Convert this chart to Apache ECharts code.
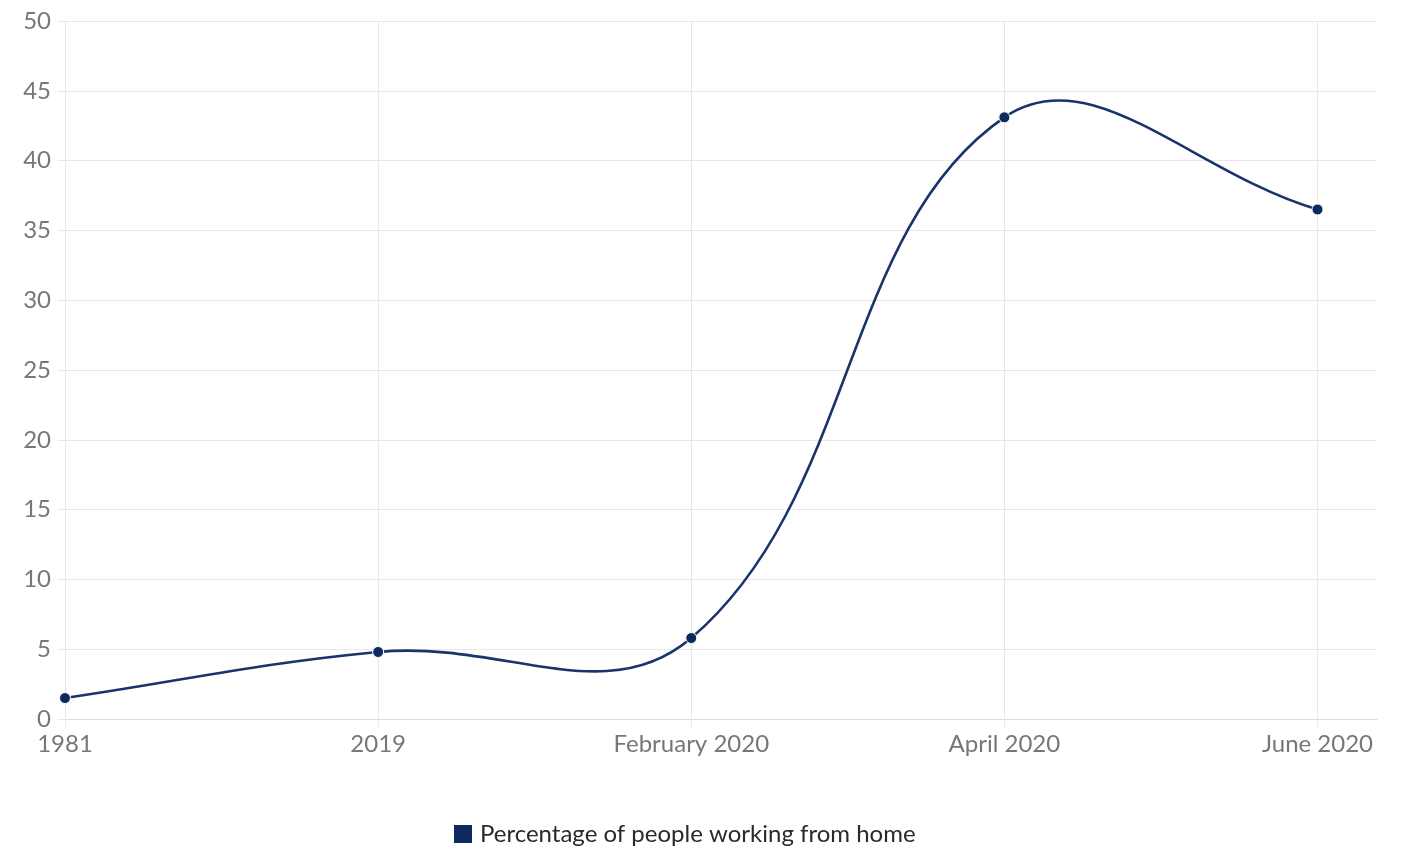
<!DOCTYPE html>
<html><head><meta charset="utf-8">
<script src="https://cdn.jsdelivr.net/npm/echarts@6/dist/echarts.min.js"></script>
<style>html,body{margin:0;padding:0;background:#fff}#c{width:1402px;height:850px}</style>
</head><body><div id="c"></div>
<script>
const categories = ['1981', '2019', 'February 2020', 'April 2020', 'June 2020'];
const values = [1.5, 4.8, 5.8, 43.1, 36.5];
const seriesName = 'Percentage of people working from home';
const yTicks = { min: 0, max: 50, interval: 5 };

const tension = 0.4;
const lineColor = '#1a336b';

function splinePath(pts) {
  // Cardinal-style spline (control points from neighbours), no clamping
  const cps = pts.map((p, i) => {
    const prev = pts[i - 1] || p, next = pts[i + 1] || p;
    const d01 = Math.hypot(p[0] - prev[0], p[1] - prev[1]);
    const d12 = Math.hypot(next[0] - p[0], next[1] - p[1]);
    const tot = d01 + d12 || 1;
    const fa = tension * d01 / tot, fb = tension * d12 / tot;
    return {
      prev: [p[0] - fa * (next[0] - prev[0]), p[1] - fa * (next[1] - prev[1])],
      next: [p[0] + fb * (next[0] - prev[0]), p[1] + fb * (next[1] - prev[1])]
    };
  });
  let d = 'M' + pts[0][0] + ' ' + pts[0][1];
  for (let i = 1; i < pts.length; i++) {
    const a = cps[i - 1].next, b = cps[i].prev, p = pts[i];
    d += ' C' + a[0] + ' ' + a[1] + ' ' + b[0] + ' ' + b[1] + ' ' + p[0] + ' ' + p[1];
  }
  return d;
}

const chart = echarts.init(document.getElementById('c'));
const gridCol = '#e8e8e8';
const labelFont = 'Lato';
chart.setOption({
  animation: false,
  grid: { left: 65, right: 25, top: 21, bottom: 131, containLabel: false },
  xAxis: {
    type: 'value', min: 0, max: 4.19, interval: 1,
    axisLine: { show: true, lineStyle: { color: '#dcdcdc', width: 1 } },
    axisTick: { show: true, length: 8, lineStyle: { color: gridCol } },
    splitLine: { show: true, showMaxLine: false, lineStyle: { color: gridCol } },
    axisLabel: {
      showMaxLabel: false, margin: 13, color: '#777', fontFamily: labelFont, fontSize: 24,
      formatter: v => (Number.isInteger(v) && categories[v] !== undefined) ? categories[v] : ''
    }
  },
  yAxis: {
    type: 'value', min: yTicks.min, max: yTicks.max, interval: yTicks.interval,
    axisLine: { show: false },
    axisTick: { show: true, length: 7, lineStyle: { color: gridCol } },
    splitLine: { show: true, lineStyle: { color: gridCol } },
    axisLabel: { margin: 14, color: '#777', fontFamily: labelFont, fontSize: 24 }
  },
  legend: {
    top: 822, left: 452, padding: 0, icon: 'rect', itemWidth: 20, itemHeight: 20, itemGap: 10,
    textStyle: { color: '#2a2a2a', fontFamily: labelFont, fontSize: 24, padding: [0, 0, 0, 2] },
    data: [seriesName]
  },
  series: [{
    name: 'curve', type: 'custom', z: 2, silent: true,
    data: values.map((v, i) => [i, v]),
    renderItem: function (params, api) {
      if (params.dataIndex !== 0) return null;
      const pts = values.map((v, i) => api.coord([i, v]));
      return {
        type: 'path',
        shape: { pathData: splinePath(pts) },
        style: { fill: null, stroke: lineColor, lineWidth: 2.6 }
      };
    }
  }, {
    name: seriesName, type: 'line', z: 3,
    data: values.map((v, i) => [i, v]),
    symbol: 'circle', symbolSize: 11,
    itemStyle: { color: '#0d2a5e', borderColor: '#fff', borderWidth: 1 },
    lineStyle: { color: lineColor, width: 2.5, opacity: 0 }
  }]
});
</script></body></html>
